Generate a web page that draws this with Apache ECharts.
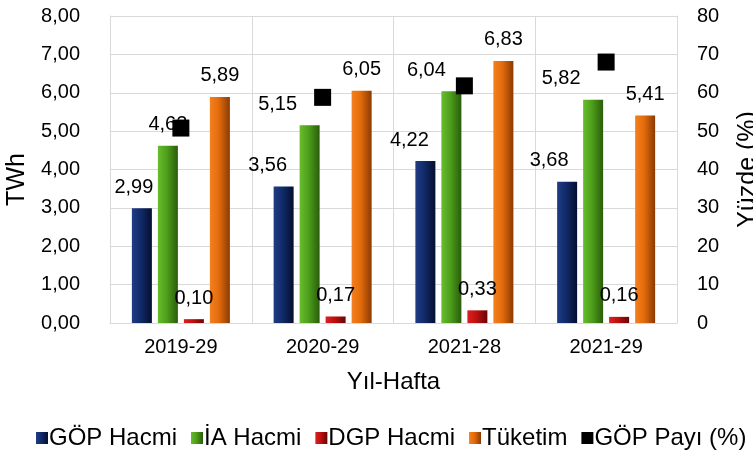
<!DOCTYPE html>
<html>
<head>
<meta charset="utf-8">
<script src="https://cdn.jsdelivr.net/npm/echarts@6/dist/echarts.min.js"></script>
<style>
html,body{margin:0;padding:0;background:#fff;}
#c{width:753px;height:473px;}
</style>
</head>
<body>
<div id="c"></div>
<script>
const categories = ['2019-29', '2020-29', '2021-28', '2021-29'];
const gopHacmi = [2.99, 3.56, 4.22, 3.68];
const iaHacmi = [4.62, 5.15, 6.04, 5.82];
const dgpHacmi = [0.10, 0.17, 0.33, 0.16];
const tuketim = [5.89, 6.05, 6.83, 5.41];
const gopPayi = [50.8, 58.8, 61.8, 68.0];
const seriesNames = ['GÖP Hacmi', 'İA Hacmi', 'DGP Hacmi', 'Tüketim', 'GÖP Payı (%)'];
const leftTicks = {min: 0, max: 8, interval: 1};
const rightTicks = {min: 0, max: 80, interval: 10};

// label horizontal shifts (style only)
const shiftGop = [-8, -16, -16, -18];
const shiftIa = [0, -32, -25, -32];

const FONT = 'Arial, "Liberation Sans", sans-serif';
const fmt2 = v => v.toFixed(2).replace('.', ',');

function grad(c1, c2, c3) {
  return new echarts.graphic.LinearGradient(0, 0, 1, 0, [
    {offset: 0, color: c1}, {offset: 0.45, color: c2}, {offset: 1, color: c3}
  ]);
}
const colNavy = grad('#1f3c85', '#112a68', '#050f30');
const colGreen = grad('#68bd2c', '#4d9e1b', '#2a5c0b');
const colRed = grad('#dc2020', '#bd1010', '#6a0404');
const colOrange = grad('#f5801e', '#e36b0b', '#8a3a04');

function barSeries(name, vals, color, shifts) {
  return {
    name: name, type: 'bar', yAxisIndex: 0, barWidth: 20, barGap: '30%',
    itemStyle: {color: color},
    data: vals.map((v, i) => ({
      value: v,
      label: shifts ? {offset: [shifts[i], 0]} : undefined
    })),
    label: {
      show: true, position: 'top', distance: 11,
      fontFamily: FONT, fontSize: 20, color: '#000',
      formatter: p => fmt2(p.value)
    },
    z: 2
  };
}

const chart = echarts.init(document.getElementById('c'), null, {renderer: 'canvas'});
chart.setOption({
  animation: false,
  textStyle: {fontFamily: FONT},
  grid: {left: 110, right: 76, top: 16, bottom: 150, containLabel: false, outerBoundsMode: 'none'},
  legend: {
    bottom: 23, left: 36, width: 717, padding: 0,
    itemWidth: 12, itemHeight: 12, itemGap: 14,
    icon: 'rect',
    textStyle: {fontFamily: FONT, fontSize: 24, color: '#000', padding: [0, 0, 0, -4]},
    data: seriesNames
  },
  xAxis: {
    type: 'category', data: categories,
    name: 'Yıl-Hafta', nameLocation: 'middle', nameGap: 47,
    nameTextStyle: {fontFamily: FONT, fontSize: 24, color: '#000'},
    axisLine: {show: true, lineStyle: {color: '#d9d9d9', width: 1}},
    axisTick: {show: false},
    axisLabel: {fontFamily: FONT, fontSize: 20, color: '#000', margin: 14},
    splitLine: {show: true, lineStyle: {color: '#d9d9d9', width: 1}}
  },
  yAxis: [
    {
      type: 'value', min: leftTicks.min, max: leftTicks.max, interval: leftTicks.interval,
      name: 'TWh', nameLocation: 'middle', nameGap: 80,
      nameTextStyle: {fontFamily: FONT, fontSize: 25, color: '#000', padding: [0, 20, 0, 0]},
      axisLine: {show: true, lineStyle: {color: '#d9d9d9'}},
      axisTick: {show: false},
      axisLabel: {fontFamily: FONT, fontSize: 20, color: '#000', margin: 30, formatter: v => fmt2(v)},
      splitLine: {show: true, lineStyle: {color: '#d9d9d9', width: 1}}
    },
    {
      type: 'value', min: rightTicks.min, max: rightTicks.max, interval: rightTicks.interval,
      position: 'right',
      name: 'Yüzde (%)', nameLocation: 'middle', nameGap: 59,
      nameTextStyle: {fontFamily: FONT, fontSize: 25, color: '#000'},
      axisLine: {show: true, lineStyle: {color: '#d9d9d9'}},
      axisTick: {show: false},
      axisLabel: {fontFamily: FONT, fontSize: 20, color: '#000', margin: 20},
      splitLine: {show: false}
    }
  ],
  series: [
    barSeries(seriesNames[0], gopHacmi, colNavy, shiftGop),
    barSeries(seriesNames[1], iaHacmi, colGreen, shiftIa),
    barSeries(seriesNames[2], dgpHacmi, colRed, null),
    barSeries(seriesNames[3], tuketim, colOrange, null),
    {
      name: seriesNames[4], type: 'scatter', yAxisIndex: 1,
      symbol: 'rect', symbolSize: 17,
      itemStyle: {color: '#000', opacity: 1},
      data: gopPayi, z: 5
    }
  ]
});
</script>
</body>
</html>
